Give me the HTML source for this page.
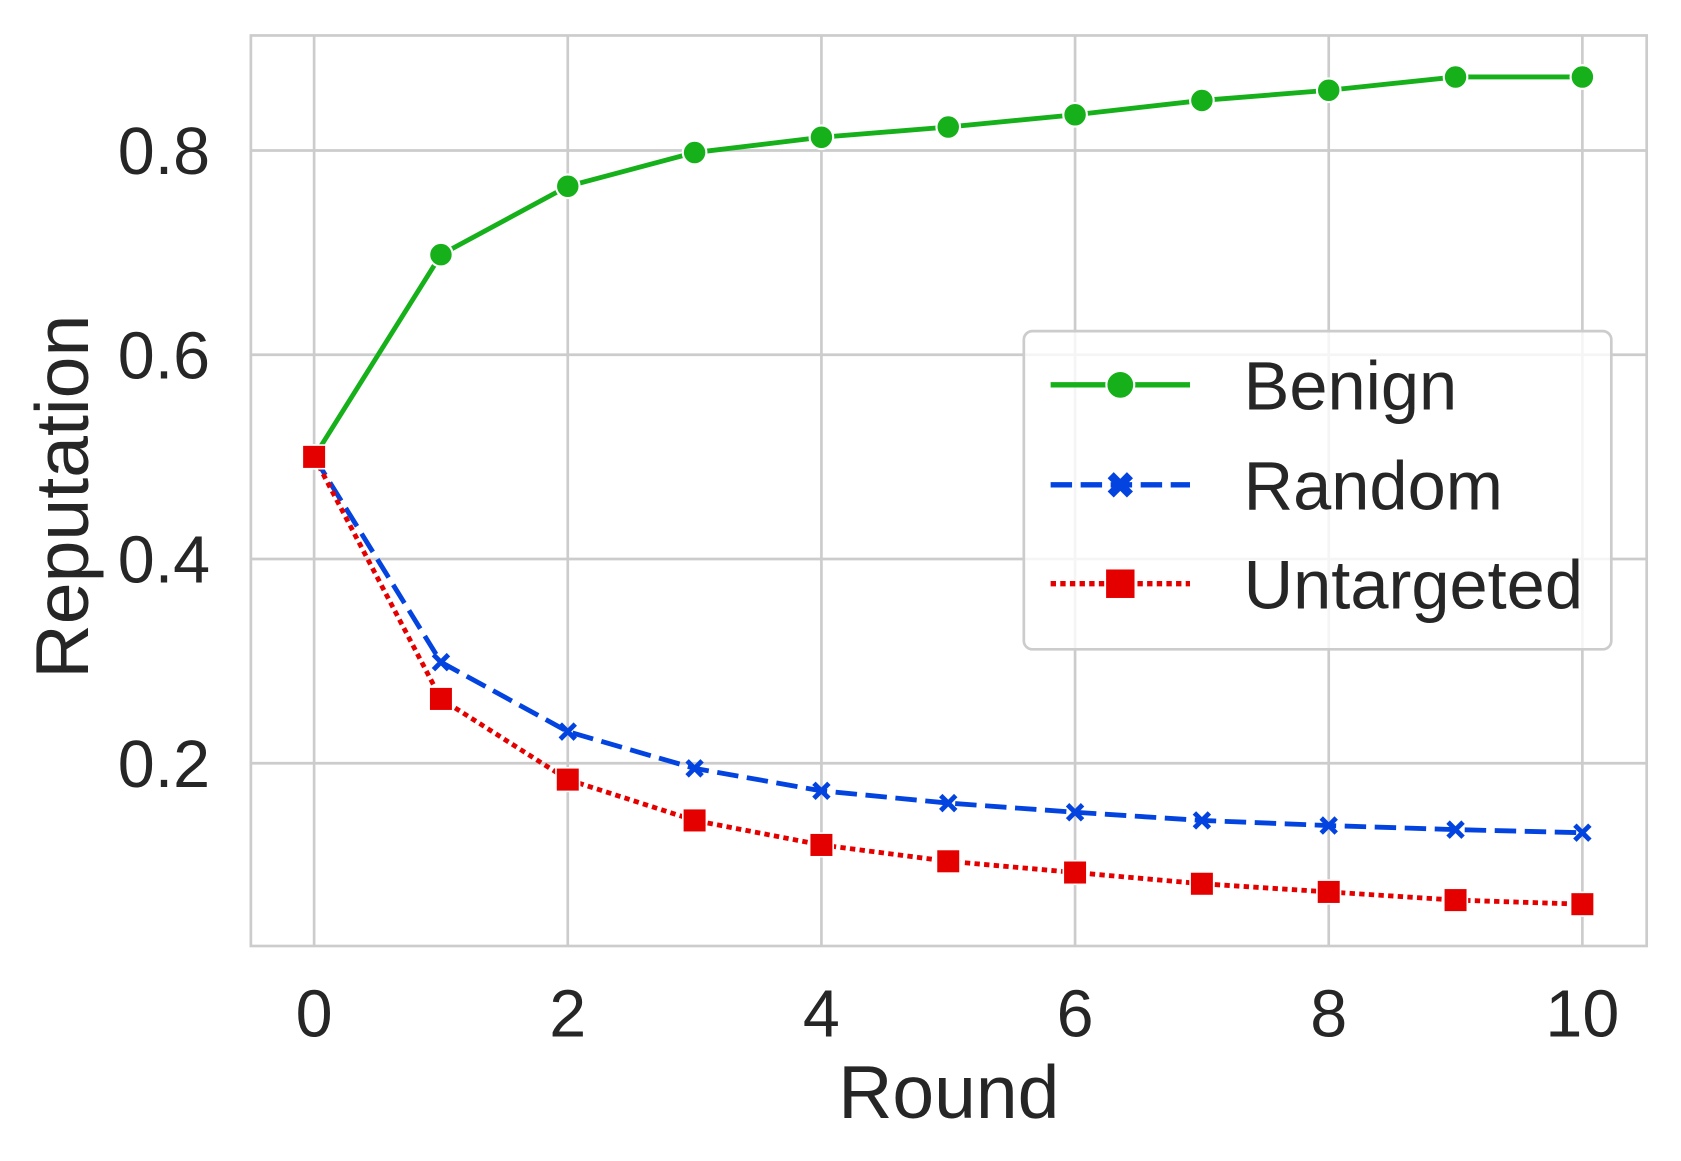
<!DOCTYPE html>
<html><head><meta charset="utf-8"><style>html,body{margin:0;padding:0;background:#fff;overflow:hidden}svg{display:block}</style></head>
<body>
<svg id="chart" width="1681" height="1161" viewBox="0 0 1568 1080" preserveAspectRatio="none" xmlns="http://www.w3.org/2000/svg" font-family="Liberation Sans, DejaVu Sans, sans-serif" fill="#262626">
<rect x="234" y="33" width="1302" height="847" fill="#fff" stroke="#cccccc" stroke-width="2.5"/>
<g id="grid"></g>
<g id="ticks"></g>
<g id="series"></g>
<text x="885" y="1040" font-size="70" text-anchor="middle">Round</text>
<text transform="translate(82,462) rotate(-90)" font-size="70" text-anchor="middle">Reputation</text>
<g>
<rect x="955" y="308" width="548" height="296" rx="8" fill="#fff" fill-opacity="0.8" stroke="#cccccc" stroke-width="2.5"/>
<g>
<line x1="980" y1="358" x2="1110" y2="358" stroke="#15b01a" stroke-width="5"/><circle cx="1045" cy="358" r="13" fill="#15b01a" stroke="#fff" stroke-width="2"/>
<text x="1160" y="381" font-size="64">Benign</text></g>
<g>
<line x1="980" y1="451" x2="1110" y2="451" stroke="#0343df" stroke-width="5" stroke-dasharray="20,8"/><path d="M1036,442L1054,460M1054,442L1036,460" stroke="#0343df" stroke-width="8"/>
<text x="1160" y="474" font-size="64">Random</text></g>
<g>
<line x1="980" y1="543" x2="1110" y2="543" stroke="#e50000" stroke-width="5" stroke-dasharray="5,4"/><rect x="1031" y="529" width="28" height="28" fill="#e50000" stroke="#fff" stroke-width="1.5"/>
<text x="1160" y="566" font-size="64">Untargeted</text></g>
</g>
</svg>
<script>
const rounds=[0,1,2,3,4,5,6,7,8,9,10];
const benign=[0.5,0.698,0.765,0.798,0.813,0.823,0.835,0.849,0.859,0.872,0.872];
const random=[0.5,0.299,0.231,0.195,0.173,0.161,0.152,0.144,0.139,0.135,0.132];
const untargeted=[0.5,0.263,0.184,0.144,0.120,0.104,0.093,0.082,0.074,0.066,0.062];
const xTicks=[0,2,4,6,8,10];
const yTicks=[0.2,0.4,0.6,0.8];
const NS='http://www.w3.org/2000/svg';
const xs=v=>293+v*118.3;
const ys=v=>710-(v-0.2)*950;
function mk(t,a,p){const e=document.createElementNS(NS,t);for(const k in a)e.setAttribute(k,a[k]);p.appendChild(e);return e;}
const grid=document.getElementById('grid'),ticks=document.getElementById('ticks'),series=document.getElementById('series');
xTicks.forEach(t=>{
 const l=mk('line',{x1:xs(t),x2:xs(t),y1:33,y2:880,stroke:'#cccccc','stroke-width':2.5},grid);
 
 
 const tx=mk('text',{x:xs(t),y:964,'font-size':62,'text-anchor':'middle'},ticks);tx.textContent=t;
 
 
});
yTicks.forEach(t=>{
 const l=mk('line',{x1:234,x2:1536,y1:ys(t),y2:ys(t),stroke:'#cccccc','stroke-width':2.5},grid);
 
 
 const tx=mk('text',{x:196,y:ys(t)+22,'font-size':62,'text-anchor':'end'},ticks);tx.textContent=t.toFixed(1);
 
 
});
function drawLine(vals,color,dash,name){
 const pts=rounds.map((r,i)=>xs(r)+','+ys(vals[i])).join(' ');
 const a={points:pts,fill:'none',stroke:color,'stroke-width':4.5};if(dash)a['stroke-dasharray']=dash;
 const p=mk('polyline',a,series);
 
 
}
drawLine(benign,'#15b01a',null,'benign');
drawLine(random,'#0343df','20,8','random');
drawLine(untargeted,'#e50000','5,4','untargeted');
rounds.forEach((r,i)=>{
 const c=mk('circle',{cx:xs(r),cy:ys(benign[i]),r:11,fill:'#15b01a',stroke:'#fff','stroke-width':2},series);
 
 
 const x=xs(r),y=ys(random[i]);
 const m=mk('path',{d:`M${x-7},${y-7}L${x+7},${y+7}M${x+7},${y-7}L${x-7},${y+7}`,stroke:'#0343df','stroke-width':4.5,fill:'none'},series);
 
 
});
rounds.forEach((r,i)=>{
 const s=mk('rect',{x:xs(r)-11,y:ys(untargeted[i])-11,width:22,height:22,fill:'#e50000',stroke:'#fff','stroke-width':1.5},series);
 
 
});
</script>
</body></html>
